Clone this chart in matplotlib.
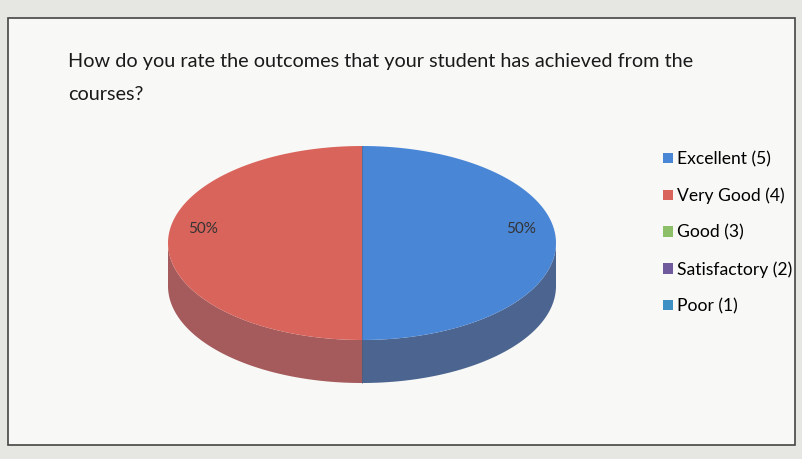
import numpy as np
import matplotlib.pyplot as plt
from matplotlib.patches import Polygon, Rectangle, Patch

# Datos del grafico
categorias = ["Excellent (5)", "Very Good (4)", "Good (3)", "Satisfactory (2)", "Poor (1)"]
respuestas = [1, 1, 0, 0, 0]
colores = ["#4a86d6", "#d9645c", "#8cbf68", "#6f5a9e", "#3d8fc4"]
colores_lado = ["#4b6590", "#a55a5c", "#6a8c55", "#554878", "#3a6a8c"]
titulo = "How do you rate the outcomes that your student has achieved from the\ncourses?"

plt.rcParams['font.family'] = ['Lato', 'DejaVu Sans']

fig = plt.figure(figsize=(8.03, 4.59), dpi=100)
fig.patch.set_facecolor("#e6e6e3")
ax = fig.add_axes([0, 0, 1, 1])
ax.set_xlim(0, 803)
ax.set_ylim(459, 0)
ax.axis("off")

# marco del grafico
ax.add_patch(Rectangle((8, 18), 787, 427, facecolor="#f8f8f6", edgecolor="#444444", lw=1.2))

ax.text(68, 78, titulo, fontsize=14.3, color="#1a1a1a", va="center", linespacing=2.15)

# pastel 3D (elipse)
cx, cy = 362, 243
rx, ry = 194, 97
prof = 43

total = sum(respuestas)
angulos = np.cumsum([0] + [v / total * 360 for v in respuestas])

def borde(a0, a1, dy=0):
    phi = np.radians(np.linspace(a0, a1, 100))
    return np.column_stack([cx + rx * np.sin(phi), cy - ry * np.cos(phi) + dy])

# lados visibles (frente)
for i, v in enumerate(respuestas):
    if v == 0:
        continue
    a0, a1 = max(angulos[i], 90), min(angulos[i + 1], 270)
    if a1 > a0:
        arriba = borde(a0, a1)
        abajo = borde(a0, a1, prof)[::-1]
        ax.add_patch(Polygon(np.vstack([arriba, abajo]), closed=True,
                             facecolor=colores_lado[i], edgecolor="none"))

# caras superiores
for i, v in enumerate(respuestas):
    if v == 0:
        continue
    pts = np.vstack([[cx, cy], borde(angulos[i], angulos[i + 1])])
    ax.add_patch(Polygon(pts, closed=True, facecolor=colores[i], edgecolor="none"))
    medio = np.radians((angulos[i] + angulos[i + 1]) / 2)
    lx = cx + rx * 0.82 * np.sin(medio)
    ly = cy - ry * 0.82 * np.cos(medio) - 14
    ax.text(lx, ly, f"{v / total * 100:.0f}%", fontsize=11, color="#333333",
            ha="center", va="center")

ax.plot([cx, cx], [cy - ry, cy + ry + prof], color="#555566", lw=0.6, alpha=0.5)

# leyenda
handles = [Patch(facecolor=c, edgecolor="none") for c in colores]
fig.legend(handles, categorias, loc="upper left", bbox_to_anchor=(663 / 803, 1 - 151 / 459),
           frameon=False, fontsize=12.6, handlelength=0.55, handleheight=0.55,
           handletextpad=0.25, labelspacing=1.17, borderaxespad=0, borderpad=0)

fig.savefig("out.png", dpi=100, facecolor=fig.get_facecolor())
